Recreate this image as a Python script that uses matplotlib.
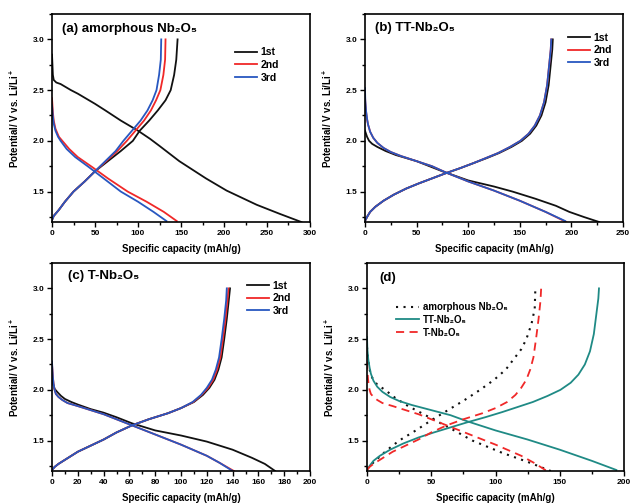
"""Charge/discharge profiles of amorphous, TT- and T-Nb2O5 (four panels)."""

import matplotlib
matplotlib.use("Agg")
import matplotlib.pyplot as plt
from matplotlib.ticker import MultipleLocator

plt.rcParams["font.family"] = ["Liberation Sans", "DejaVu Sans"]
plt.rcParams["font.weight"] = "bold"
plt.rcParams["mathtext.fontset"] = "custom"
plt.rcParams["mathtext.rm"] = "Liberation Sans:bold"
plt.rcParams["mathtext.it"] = "Liberation Sans:bold"
plt.rcParams["mathtext.bf"] = "Liberation Sans:bold"

NB2O5 = "Nb\u2082O\u2085"
CYCLES = ["1st", "2nd", "3rd"]

# ---- (a) amorphous Nb2O5 ----
a_dis1_cap = [0, 0.5, 1, 2, 5, 10, 15, 22, 30, 37, 50, 62, 80, 100, 114, 125, 148, 179, 203, 238, 265, 290]
a_dis1_v = [2.85, 2.75, 2.65, 2.6, 2.575, 2.56, 2.535, 2.5, 2.465, 2.43, 2.365, 2.3, 2.2, 2.1, 2.02, 1.95, 1.80, 1.63, 1.51, 1.37, 1.28, 1.2]
a_dis2_cap = [0, 0.5, 1, 2, 4, 8, 12, 20, 30, 47, 65, 88, 110, 130, 145]
a_dis2_v = [2.42, 2.35, 2.28, 2.2, 2.12, 2.04, 2.0, 1.92, 1.84, 1.74, 1.63, 1.5, 1.4, 1.3, 1.21]
a_dis3_cap = [0, 0.5, 1, 2, 4, 7, 10, 17, 27, 43, 60, 80, 100, 118, 133]
a_dis3_v = [2.35, 2.3, 2.24, 2.17, 2.1, 2.04, 2.0, 1.92, 1.84, 1.74, 1.63, 1.5, 1.4, 1.3, 1.21]
a_chg_v = [1.22, 1.26, 1.32, 1.4, 1.5, 1.6, 1.7, 1.8, 1.9, 2.0, 2.1, 2.2, 2.3, 2.4, 2.5, 2.65, 2.8, 3.0]
a_chg1_cap = [0, 2, 8, 15, 25, 38, 50, 65, 80, 94, 102, 113, 123, 132, 138, 142, 144.5, 146]
a_chg2_cap = [0, 2, 8, 15, 25, 38, 50, 63, 76, 87, 97, 107, 115, 121, 126, 129.5, 131.5, 132]
a_chg3_cap = [0, 2, 8, 15, 25, 38, 50, 62, 74, 83, 93, 103, 111, 117, 121.5, 124.5, 126.5, 127]

# ---- (b) TT-Nb2O5 ----
b_dis1_cap = [0, 1, 2, 4, 7, 12, 20, 30, 50, 75, 100, 125, 143, 165, 185, 198, 212, 227]
b_dis1_v = [2.1, 2.07, 2.04, 2.0, 1.97, 1.94, 1.9, 1.86, 1.8, 1.7, 1.61, 1.55, 1.5, 1.43, 1.36, 1.3, 1.25, 1.2]
b_dis2_cap = [0, 0.3, 1, 2, 3, 5, 8, 12, 18, 25, 35, 50, 65, 78, 100, 125, 150, 175, 195]
b_dis2_v = [2.45, 2.38, 2.29, 2.21, 2.16, 2.09, 2.03, 1.98, 1.93, 1.89, 1.85, 1.8, 1.75, 1.69, 1.6, 1.51, 1.41, 1.3, 1.2]
b_dis3_cap = [0, 0.3, 1, 2, 3, 5, 8, 12, 18, 25, 35, 50, 65, 78, 100, 125, 150, 175, 194]
b_dis3_v = [2.52, 2.4, 2.3, 2.22, 2.16, 2.09, 2.03, 1.98, 1.93, 1.89, 1.85, 1.8, 1.75, 1.69, 1.6, 1.51, 1.41, 1.3, 1.21]
b_chg_v = [1.21, 1.25, 1.3, 1.35, 1.41, 1.47, 1.53, 1.58, 1.63, 1.68, 1.73, 1.78, 1.83, 1.88, 1.94, 2.0, 2.07, 2.15, 2.25, 2.38, 2.55, 2.75, 2.9, 3.0]
b_chg1_cap = [0, 2, 5, 10, 18, 28, 40, 52, 65, 78, 92, 105, 118, 130, 142, 152, 160, 166, 171, 175, 178, 180, 181.5, 182]
b_chg2_cap = [0, 2, 5, 10, 18, 28, 40, 52, 65, 78, 92, 105, 117, 129, 140.5, 150.5, 158.5, 164.5, 169.5, 173.5, 176.5, 178.5, 180, 180.5]
b_chg3_cap = [0, 2, 5, 10, 18, 28, 40, 52, 65, 78, 92, 105, 117, 129, 140.5, 150.5, 158.5, 164.5, 169.5, 173.5, 176.5, 178.5, 180, 180.5]

# ---- (c) T-Nb2O5 ----
c_dis1_cap = [0, 0.5, 1, 2, 4, 7, 10, 15, 20, 30, 40, 50, 62, 80, 100, 120, 140, 155, 165, 173]
c_dis1_v = [2.12, 2.08, 2.05, 2.01, 1.98, 1.94, 1.91, 1.88, 1.855, 1.81, 1.775, 1.73, 1.67, 1.6, 1.55, 1.49, 1.41, 1.33, 1.27, 1.2]
c_dis2_cap = [0, 0.3, 0.7, 1.2, 2, 3, 5, 8, 12, 20, 30, 40, 50, 62, 80, 100, 120, 130, 141]
c_dis2_v = [2.25, 2.2, 2.12, 2.06, 2.0, 1.96, 1.93, 1.9, 1.87, 1.84, 1.8, 1.76, 1.71, 1.65, 1.56, 1.46, 1.35, 1.28, 1.2]
c_dis3_cap = [0, 0.3, 0.7, 1.2, 2, 3, 5, 8, 12, 20, 30, 40, 50, 62, 80, 100, 120, 130, 140]
c_dis3_v = [2.28, 2.2, 2.12, 2.06, 2.0, 1.96, 1.93, 1.9, 1.87, 1.84, 1.8, 1.76, 1.71, 1.65, 1.56, 1.46, 1.35, 1.28, 1.2]
c_chg_v = [1.21, 1.24, 1.27, 1.31, 1.39, 1.45, 1.51, 1.58, 1.65, 1.71, 1.77, 1.82, 1.88, 1.95, 2.02, 2.1, 2.2, 2.32, 2.5, 2.7, 2.88, 3.0]
c_chg1_cap = [0, 2, 5, 10, 20, 30, 40, 50, 62, 75, 90, 100, 110, 117, 122, 126, 129, 131.5, 133.5, 135.5, 137, 138]
c_chg2_cap = [0, 2, 5, 10, 20, 30, 40, 50, 62, 75, 90, 100, 109.5, 116, 121, 125, 128, 130.5, 132.5, 134.5, 136, 136.8]
c_chg3_cap = [0, 2, 5, 10, 20, 30, 40, 50, 62, 75, 90, 100, 109, 115.5, 120, 124, 127, 129.5, 131.5, 133.5, 135, 135.5]

# ---- (d) comparison ----
d_labels = ["amorphous " + NB2O5, "TT-" + NB2O5, "T-" + NB2O5]
d_am_dis_cap = [0, 0.5, 1, 2, 4, 8, 14, 22, 32, 47, 65, 82, 105, 125, 143]
d_am_dis_v = [2.42, 2.35, 2.28, 2.2, 2.12, 2.05, 2.0, 1.92, 1.84, 1.74, 1.62, 1.5, 1.38, 1.29, 1.2]
d_am_chg_cap = [0, 3, 8, 15, 25, 38, 50, 63, 76, 88, 99, 108, 114, 120, 124, 128, 130.5, 131]
d_am_chg_v = [1.22, 1.26, 1.32, 1.4, 1.5, 1.6, 1.7, 1.8, 1.9, 2.0, 2.1, 2.2, 2.3, 2.4, 2.5, 2.65, 2.8, 3.0]

COLORS = ["#111111", "#f02828", "#2857c0"]
TEAL = "#1f8a85"


def style_axes(ax, xmax, xmajor, xminor):
    ax.set_xlim(0, xmax)
    ax.set_ylim(1.2, 3.25)
    ax.xaxis.set_major_locator(MultipleLocator(xmajor))
    ax.xaxis.set_minor_locator(MultipleLocator(xminor))
    ax.yaxis.set_major_locator(MultipleLocator(0.5))
    ax.yaxis.set_minor_locator(MultipleLocator(0.25))
    ax.tick_params(which="both", direction="out", top=False, right=False,
                   labelsize=6, width=1.0, pad=2)
    ax.tick_params(which="major", length=3.5)
    ax.tick_params(which="minor", length=2)
    for sp in ax.spines.values():
        sp.set_linewidth(1.2)
    ax.set_xlabel("Specific capacity (mAh/g)", fontsize=7, fontweight="bold", labelpad=5)
    ax.set_ylabel("Potential/ V vs. Li/Li$^+$", fontsize=7, fontweight="bold", labelpad=8)


def cycle_panel(ax, curves, title, tpos, legpos, xmax, xmajor, xminor):
    for i, (dcap, dv, ccap, cv) in enumerate(curves):
        ax.plot(dcap, dv, color=COLORS[i], lw=1.3, label=CYCLES[i])
        ax.plot(ccap, cv, color=COLORS[i], lw=1.3)
    ax.text(tpos[0], tpos[1], title, transform=ax.transAxes, fontsize=9.5,
            fontweight="bold", va="center", ha="left")
    ax.legend(loc="upper left", bbox_to_anchor=legpos, frameon=False, fontsize=7.5,
              handlelength=2.1, handletextpad=0.35, labelspacing=0.25, borderpad=0,
              borderaxespad=0)
    style_axes(ax, xmax, xmajor, xminor)


fig = plt.figure(figsize=(6.32, 5.03), dpi=100)
ax_a = fig.add_axes([0.0823, 0.5586, 0.4082, 0.4135])
ax_b = fig.add_axes([0.5775, 0.5586, 0.4082, 0.4135])
ax_c = fig.add_axes([0.0823, 0.0636, 0.4082, 0.4135])
ax_d = fig.add_axes([0.5807, 0.0636, 0.4067, 0.4135])

cycle_panel(ax_a,
            [(a_dis1_cap, a_dis1_v, a_chg1_cap, a_chg_v),
             (a_dis2_cap, a_dis2_v, a_chg2_cap, a_chg_v),
             (a_dis3_cap, a_dis3_v, a_chg3_cap, a_chg_v)],
            "(a) amorphous " + NB2O5, (0.039, 0.928), (0.709, 0.84), 300, 50, 25)
cycle_panel(ax_b,
            [(b_dis1_cap, b_dis1_v, b_chg1_cap, b_chg_v),
             (b_dis2_cap, b_dis2_v, b_chg2_cap, b_chg_v),
             (b_dis3_cap, b_dis3_v, b_chg3_cap, b_chg_v)],
            "(b) TT-" + NB2O5, (0.039, 0.933), (0.786, 0.91), 250, 50, 25)
cycle_panel(ax_c,
            [(c_dis1_cap, c_dis1_v, c_chg1_cap, c_chg_v),
             (c_dis2_cap, c_dis2_v, c_chg2_cap, c_chg_v),
             (c_dis3_cap, c_dis3_v, c_chg3_cap, c_chg_v)],
            "(c) T-" + NB2O5, (0.062, 0.9375), (0.757, 0.915), 200, 20, 10)

# (d) comparison of the three polymorphs
ax_d.plot(d_am_dis_cap, d_am_dis_v, color="#111111", lw=1.5, ls=(0, (1, 2.6)),
          label=d_labels[0])
ax_d.plot(d_am_chg_cap, d_am_chg_v, color="#111111", lw=1.5, ls=(0, (1, 2.6)))
ax_d.plot(b_dis3_cap, b_dis3_v, color=TEAL, lw=1.3, label=d_labels[1])
ax_d.plot(b_chg3_cap, b_chg_v, color=TEAL, lw=1.3)
ax_d.plot(c_dis3_cap, c_dis3_v, color="#f02828", lw=1.3, ls=(0, (4.5, 3)),
          label=d_labels[2])
ax_d.plot(c_chg3_cap, c_chg_v, color="#f02828", lw=1.3, ls=(0, (4.5, 3)))
ax_d.text(0.047, 0.928, "(d)", transform=ax_d.transAxes, fontsize=9.5,
          fontweight="bold", va="center", ha="left")
ax_d.legend(loc="upper left", bbox_to_anchor=(0.112, 0.813), frameon=False, fontsize=7,
            handlelength=2.4, handletextpad=0.35, labelspacing=0.3, borderpad=0,
            borderaxespad=0)
style_axes(ax_d, 200, 50, 25)

fig.savefig("out.png", dpi=100)
